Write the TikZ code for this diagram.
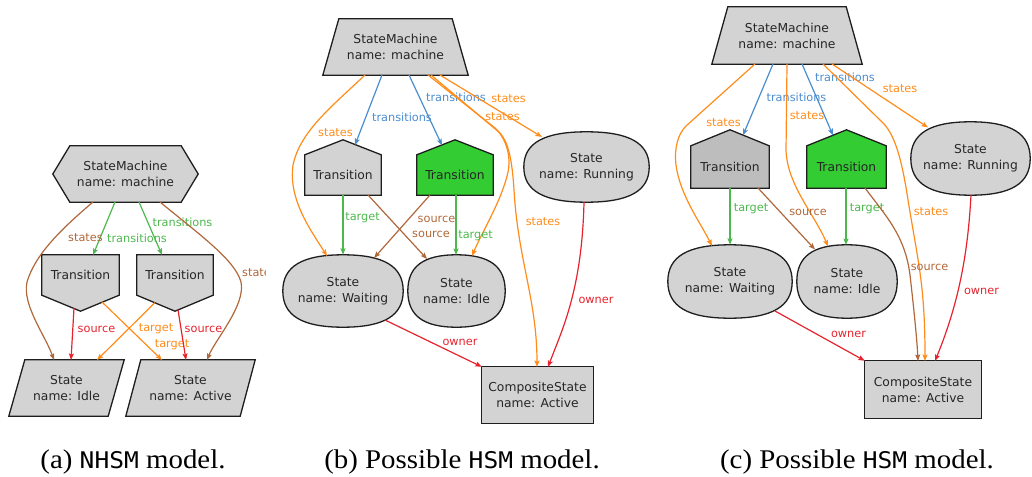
\documentclass[tikz,border=0pt]{standalone}
\usepackage{fontspec}
\setmainfont{Liberation Serif}
\newfontfamily\diagfont{DejaVu Sans}
\newfontfamily\capmono{DejaVu Sans Mono}[Scale=0.85]
\usetikzlibrary{arrows.meta,calc,backgrounds}

\definecolor{boxgray}{HTML}{D3D3D3}
\definecolor{boxdark}{HTML}{BDBDBD}
\definecolor{boxgreen}{HTML}{33CC33}
\definecolor{borderink}{HTML}{1E1E1E}
\definecolor{ecorange}{HTML}{FF8C1A}
\definecolor{ecbrown}{HTML}{B0683A}
\definecolor{ecred}{HTML}{E6232D}
\definecolor{ecblue}{HTML}{4A8DCF}
\definecolor{ecgreen}{HTML}{4DB84D}

\tikzset{
  body/.style={rectangle, draw=none, inner sep=0pt, align=center,
    font=\diagfont\fontsize{12.3}{16}\selectfont, text=black!85},
  outline/.style={draw=borderink, line width=1.3pt, line join=miter},
  link/.style={line width=1.2pt, -{Stealth[length=6.5pt,width=5pt,inset=1.2pt]}},
  lbl/.style={inner sep=0pt, font=\diagfont\fontsize{11.3}{13}\selectfont},
  capt/.style={anchor=base, inner sep=0pt, font=\fontsize{27}{30}\selectfont}
}

% outlines drawn behind the text nodes, built from the nodes' anchors
\newcommand\hexbox[3]{\path[outline,fill=#1] ([xshift=#3]#2.north west) -- ([xshift=-#3]#2.north east) -- (#2.east) -- ([xshift=-#3]#2.south east) -- ([xshift=#3]#2.south west) -- (#2.west) -- cycle;}
\newcommand\trapbox[3]{\path[outline,fill=#1] ([xshift=#3]#2.north west) -- ([xshift=-#3]#2.north east) -- (#2.south east) -- (#2.south west) -- cycle;}
\newcommand\slantbox[3]{\path[outline,fill=#1] ([xshift=#3]#2.north west) -- (#2.north east) -- ([xshift=-#3]#2.south east) -- (#2.south west) -- cycle;}
\newcommand\dropbox[3]{\path[outline,fill=#1] (#2.north west) -- (#2.north east) -- (#2.south east) -- ([yshift=-#3]#2.south) -- (#2.south west) -- cycle;}
\newcommand\housebox[3]{\path[outline,fill=#1] (#2.south west) -- (#2.south east) -- (#2.north east) -- ([yshift=#3]#2.north) -- (#2.north west) -- cycle;}
\newcommand\roundbox[2]{\path[outline,fill=#1]
  (#2.east) .. controls ($(#2.east)!0.68!(#2.north east)$) and ($(#2.north)!0.68!(#2.north east)$) .. (#2.north)
  .. controls ($(#2.north)!0.68!(#2.north west)$) and ($(#2.west)!0.68!(#2.north west)$) .. (#2.west)
  .. controls ($(#2.west)!0.68!(#2.south west)$) and ($(#2.south)!0.68!(#2.south west)$) .. (#2.south)
  .. controls ($(#2.south)!0.68!(#2.south east)$) and ($(#2.east)!0.68!(#2.south east)$) .. (#2.east) -- cycle;}

\begin{document}
\begin{tikzpicture}[x=1pt,y=-1pt]
\useasboundingbox (0,0) rectangle (1032,476);

% ---------------- (a) ----------------
\node[body, minimum width=145pt, minimum height=56pt] (aSM) at (125.5,174) {StateMachine\\name: machine};
\node[body, minimum width=77pt, minimum height=40pt] (aT1) at (80.5,275) {Transition};
\node[body, minimum width=76pt, minimum height=40pt] (aT2) at (175,275) {Transition};
\node[body, minimum width=115pt, minimum height=56pt] (aIdle) at (66.5,388) {State\\name: Idle};
\node[body, minimum width=129pt, minimum height=56pt] (aAct) at (190.5,388) {State\\name: Active};

% ---------------- (b) ----------------
\node[body, minimum width=145pt, minimum height=56pt] (bSM) at (395.5,47) {StateMachine\\name: machine};
\node[body, minimum width=76pt, minimum height=40pt] (bT1) at (343,175) {Transition};
\node[body, minimum width=76pt, minimum height=40pt] (bT2) at (455,175) {Transition};
\node[body, minimum width=125pt, minimum height=70pt] (bRun) at (586.5,167) {State\\name: Running};
\node[body, minimum width=120pt, minimum height=72pt] (bWait) at (343,291) {State\\name: Waiting};
\node[body, minimum width=97pt, minimum height=72pt] (bIdle) at (456.5,291) {State\\name: Idle};
\node[body, minimum width=111pt, minimum height=56pt] (bComp) at (537.5,395) {CompositeState\\name: Active};

% ---------------- (c) ----------------
\node[body, minimum width=150pt, minimum height=57pt] (cSM) at (787,35.5) {StateMachine\\name: machine};
\node[body, minimum width=78pt, minimum height=42pt] (cT1) at (730,167) {Transition};
\node[body, minimum width=79pt, minimum height=42pt] (cT2) at (846.5,167) {Transition};
\node[body, minimum width=119pt, minimum height=73pt] (cRun) at (970.5,158.5) {State\\name: Running};
\node[body, minimum width=124pt, minimum height=73pt] (cWait) at (730,281.5) {State\\name: Waiting};
\node[body, minimum width=100pt, minimum height=73pt] (cIdle) at (847,281.5) {State\\name: Idle};
\node[body, minimum width=116pt, minimum height=57pt] (cComp) at (923,389.5) {CompositeState\\name: Active};

\begin{pgfonlayer}{background}
  \hexbox{boxgray}{aSM}{17pt}
  \dropbox{boxgray}{aT1}{16pt}
  \dropbox{boxgray}{aT2}{16pt}
  \slantbox{boxgray}{aIdle}{16pt}
  \slantbox{boxgray}{aAct}{15pt}

  \trapbox{boxgray}{bSM}{16pt}
  \housebox{boxgray}{bT1}{15pt}
  \housebox{boxgreen}{bT2}{15pt}
  \roundbox{boxgray}{bRun}
  \roundbox{boxgray}{bWait}
  \roundbox{boxgray}{bIdle}
  \path[outline,fill=boxgray] (bComp.north west) rectangle (bComp.south east);

  \trapbox{boxgray}{cSM}{16pt}
  \housebox{boxdark}{cT1}{16pt}
  \housebox{boxgreen}{cT2}{16pt}
  \roundbox{boxgray}{cRun}
  \roundbox{boxgray}{cWait}
  \roundbox{boxgray}{cIdle}
  \path[outline,fill=boxgray] (cComp.north west) rectangle (cComp.south east);
\end{pgfonlayer}

% ---------------- connectors (a) ----------------
\draw[link,ecgreen] ($(aSM)+(-10.5,28)$) -- ($(aT1)+(12.5,-20)$)
  node[lbl] (la1) at (137,238) {transitions};
\draw[link,ecgreen] ($(aSM)+(13.5,28)$) -- ($(aT2)+(-13,-20)$)
  node[lbl] (la2) at (182.5,222) {transitions};
\draw[link,ecbrown] ($(aSM)+(-32.5,28)$) .. controls (60,230) and (35,255) .. (27,282)
  .. controls (22,305) and (45,335) .. ($(aIdle)+(-12.5,-28)$)
  node[lbl] (la3) at (85.5,238) {states};
\draw[link,ecbrown] ($(aSM)+(34.5,28)$) .. controls (200,235) and (235,260) .. (241,282)
  .. controls (246,305) and (215,340) .. ($(aAct)+(16.5,-28)$);
\begin{scope}
  \clip (0,0) rectangle (265,476);
  \node[lbl,text=ecbrown,anchor=west] (la4) at (242,273) {states};
\end{scope}
\draw[link,ecred] ($(aT1)+(-6.5,33)$) -- ($(aIdle)+(4.5,-28)$)
  node[lbl] (la5) at (96.5,329) {source};
\draw[link,ecorange] ($(aT1)+(21.5,27)$) -- ($(aAct)+(-28.5,-28)$)
  node[lbl] (la6) at (172,345) {target};
\draw[link,ecorange] ($(aT2)+(-20,27.6)$) -- ($(aIdle)+(30.5,-28)$)
  node[lbl] (la7) at (156,329) {target};
\draw[link,ecred] ($(aT2)+(3,34.7)$) -- ($(aAct)+(-4.5,-28)$)
  node[lbl] (la8) at (203.5,329) {source};

% ---------------- connectors (b) ----------------
\draw[link,ecblue] ($(bSM)+(-13.5,28)$) -- ($(bT1)+(12,-30)$)
  node[lbl] (lb1) at (402,117) {transitions};
\draw[link,ecblue] ($(bSM)+(13.5,28)$) -- ($(bT2)+(-13,-29.6)$)
  node[lbl] (lb2) at (456,97) {transitions};
\draw[link,ecorange] ($(bSM)+(44.5,28)$) -- ($(bRun)+(-44.5,-30)$)
  node[lbl] (lb3) at (508.5,99) {states};
\draw[link,ecorange] ($(bSM)+(32.5,28)$) -- (495,128) .. controls (503,135) and (512,152) .. (508,172)
  .. controls (502,200) and (482,232) .. ($(bIdle)+(15.5,-35)$)
  node[lbl] (lb4) at (502.5,117) {states};
\draw[link,ecorange] ($(bSM)+(35.5,28)$) -- (500,133) .. controls (508,142) and (512,158) .. (514,190)
  .. controls (518,260) and (537,300) .. ($(bComp)+(-0.5,-28)$)
  node[lbl] (lb5) at (543,222) {states};
\draw[link,ecorange] ($(bSM)+(-30.5,28)$) .. controls (330,108) and (300,132) .. (293,165)
  .. controls (288,200) and (312,232) .. ($(bWait)+(-16,-35)$)
  node[lbl] (lb6) at (335.5,133) {states};
\draw[link,ecgreen] (bT1.south) -- (bWait.north)
  node[lbl] (lb7) at (362.5,218) {target};
\draw[link,ecbrown] ($(bT1)+(25,20)$) -- ($(bIdle)+(-29.5,-32)$)
  node[lbl] (lb8) at (431,234) {source};
\draw[link,ecbrown] ($(bT2)+(-25,20)$) -- ($(bWait)+(31,-33)$)
  node[lbl] (lb9) at (436.5,219) {source};
\draw[link,ecgreen] ($(bT2)+(1,20)$) -- ($(bIdle)+(-0.5,-36)$)
  node[lbl] (lb10) at (475.5,236) {target};
\draw[link,ecred] ($(bWait)+(42,29)$) -- (bComp.north west)
  node[lbl] (lb11) at (460,342) {owner};
\draw[link,ecred] ($(bRun)+(-2.5,35)$) .. controls (582,290) and (562,330) .. ($(bComp)+(10.5,-28)$)
  node[lbl] (lb12) at (596,300) {owner};

% ---------------- connectors (c) ----------------
\draw[link,ecblue] ($(cSM)+(-14,28.5)$) -- ($(cT1)+(13,-31.7)$)
  node[lbl] (lc1) at (796.5,97) {transitions};
\draw[link,ecblue] ($(cSM)+(15,28.5)$) -- ($(cT2)+(-13.5,-31.7)$)
  node[lbl] (lc2) at (845,77) {transitions};
\draw[link,ecorange] ($(cSM)+(45,28.5)$) -- ($(cRun)+(-42.5,-31)$)
  node[lbl] (lc3) at (900,89) {states};
\draw[link,ecorange] ($(cSM)+(-32,28.5)$) -- (686,126) .. controls (678,134) and (674,148) .. (676,165)
  .. controls (680,195) and (700,222) .. ($(cWait)+(-18,-35.5)$)
  node[lbl] (lc4) at (723.5,123) {states};
\draw[link,ecorange] ($(cSM)+(0,28.5)$) -- (786,150) .. controls (787,185) and (815,215) .. ($(cIdle)+(-19,-35)$)
  node[lbl] (lc5) at (807,116) {states};
\draw[link,ecorange] ($(cSM)+(36,28.5)$) -- (884,124) .. controls (895,136) and (902,160) .. (908,200)
  .. controls (918,262) and (925,285) .. ($(cComp)+(2,-28.5)$)
  node[lbl] (lc6) at (931,212) {states};
\draw[link,ecgreen] (cT1.south) -- (cWait.north)
  node[lbl] (lc7) at (751,209) {target};
\draw[link,ecbrown] ($(cT1)+(28,21)$) -- ($(cIdle)+(-32,-32)$)
  node[lbl] (lc8) at (808,212) {source};
\draw[link,ecgreen] ($(cT2)+(-0.5,21)$) -- ($(cIdle)+(-1,-36.5)$)
  node[lbl] (lc9) at (867,209) {target};
\draw[link,ecbrown] ($(cT2)+(18.5,21)$) .. controls (885,215) and (905,235) .. (910,275)
  .. controls (914,310) and (917,340) .. ($(cComp)+(-5,-28.5)$)
  node[lbl] (lc10) at (929.5,267) {source};
\draw[link,ecred] ($(cRun)+(0.5,36.5)$) .. controls (968,250) and (960,300) .. ($(cComp)+(12,-28.5)$)
  node[lbl] (lc11) at (981.5,291) {owner};
\draw[link,ecred] ($(cWait)+(45,29.5)$) -- (cComp.north west)
  node[lbl] (lc12) at (848.5,334) {owner};

% ---------------- captions ----------------
\node[capt] (capA) at (133,468) {\scalebox{1.07}[1]{(a) {\capmono NHSM} model.}};
\node[capt] (capB) at (462,468) {\scalebox{1.07}[1]{(b) Possible {\capmono HSM} model.}};
\node[capt] (capC) at (857,468) {\scalebox{1.07}[1]{(c) Possible {\capmono HSM} model.}};
\end{tikzpicture}
\end{document}
